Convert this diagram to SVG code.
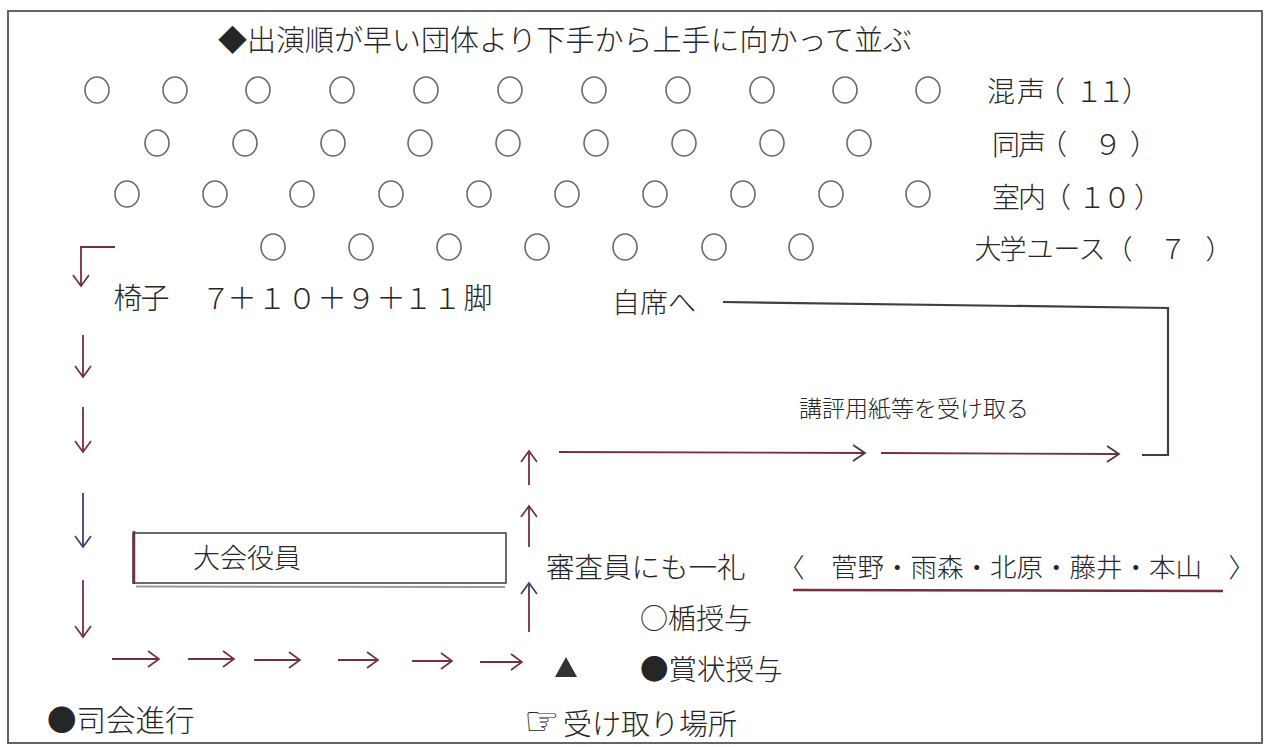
<svg xmlns="http://www.w3.org/2000/svg" width="1268" height="747" viewBox="0 0 1268 747">
<style>
  text { font-family: 'Noto Sans CJK JP', 'Noto Sans CJK SC', sans-serif; fill: #262626; font-weight: 300; }
  .seat { fill: none; stroke: #6a6a6a; stroke-width: 1.6; }
  .mr { stroke: #73303d; stroke-width: 1.8; fill: none; }
  .nv { stroke: #3d4170; stroke-width: 1.8; fill: none; }
  .dk { stroke: #4a3a3d; stroke-width: 2.2; fill: none; }
</style>
<defs>
  <marker id="ahM" viewBox="-13 -10 15 20" refX="0" refY="0" markerWidth="15" markerHeight="20" markerUnits="userSpaceOnUse" orient="auto">
    <path d="M-11,-8 L0,0 L-11,8" fill="none" stroke="#73303d" stroke-width="1.7"/>
  </marker>
  <marker id="ahN" viewBox="-13 -10 15 20" refX="0" refY="0" markerWidth="15" markerHeight="20" markerUnits="userSpaceOnUse" orient="auto">
    <path d="M-11,-8 L0,0 L-11,8" fill="none" stroke="#3d4170" stroke-width="1.7"/>
  </marker>
  <marker id="ahD" viewBox="-13 -10 15 20" refX="0" refY="0" markerWidth="15" markerHeight="20" markerUnits="userSpaceOnUse" orient="auto">
    <path d="M-12,-8 L0,0 L-12,8" fill="none" stroke="#4a3a3d" stroke-width="1.8"/>
  </marker>
</defs>

<rect x="0" y="0" width="1268" height="747" fill="#ffffff"/>
<rect id="frame" x="8" y="11" width="1254" height="732" fill="none" stroke="#555" stroke-width="1.8"/>

<g id="title">
  <text x="218" y="51" font-size="29">◆出演順が早い団体より下手から上手に向かって並ぶ</text>
</g>

<g id="row-konsei">
  <ellipse class="seat" cx="97" cy="90" rx="12" ry="13"/>
  <ellipse class="seat" cx="175" cy="90" rx="12" ry="13"/>
  <ellipse class="seat" cx="258" cy="90" rx="12" ry="13"/>
  <ellipse class="seat" cx="342" cy="90" rx="12" ry="13"/>
  <ellipse class="seat" cx="426" cy="90" rx="12" ry="13"/>
  <ellipse class="seat" cx="510" cy="90" rx="12" ry="13"/>
  <ellipse class="seat" cx="594" cy="90" rx="12" ry="13"/>
  <ellipse class="seat" cx="678" cy="90" rx="12" ry="13"/>
  <ellipse class="seat" cx="762" cy="90" rx="12" ry="13"/>
  <ellipse class="seat" cx="845" cy="90" rx="12" ry="13"/>
  <ellipse class="seat" cx="928" cy="90" rx="12" ry="13"/>
  <text x="1001 1031 1051 1089 1111 1136" y="102" font-size="28" text-anchor="middle">混声（１１）</text>
</g>

<g id="row-dousei">
  <ellipse class="seat" cx="157" cy="143" rx="12" ry="13"/>
  <ellipse class="seat" cx="245" cy="143" rx="12" ry="13"/>
  <ellipse class="seat" cx="333" cy="143" rx="12" ry="13"/>
  <ellipse class="seat" cx="420" cy="143" rx="12" ry="13"/>
  <ellipse class="seat" cx="508" cy="143" rx="12" ry="13"/>
  <ellipse class="seat" cx="596" cy="143" rx="12" ry="13"/>
  <ellipse class="seat" cx="684" cy="143" rx="12" ry="13"/>
  <ellipse class="seat" cx="772" cy="143" rx="12" ry="13"/>
  <ellipse class="seat" cx="859" cy="143" rx="12" ry="13"/>
  <text x="1006 1032 1053 1080 1108 1125 1144" y="155" font-size="28" text-anchor="middle">同声（　９　）</text>
</g>

<g id="row-shitsunai">
  <ellipse class="seat" cx="127" cy="194" rx="12" ry="13"/>
  <ellipse class="seat" cx="215" cy="194" rx="12" ry="13"/>
  <ellipse class="seat" cx="302" cy="194" rx="12" ry="13"/>
  <ellipse class="seat" cx="391" cy="194" rx="12" ry="13"/>
  <ellipse class="seat" cx="479" cy="194" rx="12" ry="13"/>
  <ellipse class="seat" cx="567" cy="194" rx="12" ry="13"/>
  <ellipse class="seat" cx="655" cy="194" rx="12" ry="13"/>
  <ellipse class="seat" cx="743" cy="194" rx="12" ry="13"/>
  <ellipse class="seat" cx="831" cy="194" rx="12" ry="13"/>
  <ellipse class="seat" cx="918" cy="194" rx="12" ry="13"/>
  <text x="1006 1032 1057 1092 1117 1148" y="208" font-size="28" text-anchor="middle">室内（１０）</text>
</g>

<g id="row-daigaku">
  <ellipse class="seat" cx="273" cy="247" rx="12" ry="13"/>
  <ellipse class="seat" cx="361" cy="247" rx="12" ry="13"/>
  <ellipse class="seat" cx="449" cy="247" rx="12" ry="13"/>
  <ellipse class="seat" cx="537" cy="247" rx="12" ry="13"/>
  <ellipse class="seat" cx="625" cy="247" rx="12" ry="13"/>
  <ellipse class="seat" cx="714" cy="247" rx="12" ry="13"/>
  <ellipse class="seat" cx="801" cy="247" rx="12" ry="13"/>
  <text x="988 1013 1040 1067 1092 1119 1145 1173 1195 1219" y="259" font-size="27" text-anchor="middle">大学ユース（　７　）</text>
</g>

<g id="chairs">
  <text x="128 155 185 216 242 272 302 332 361 391 418 447 478" y="309" font-size="29" text-anchor="middle">椅子　７＋１０＋９＋１１脚</text>
</g>

<g id="jiseki">
  <text x="612" y="313" font-size="28">自席へ</text>
</g>

<g id="kouhyou">
  <text x="799" y="417" font-size="23">講評用紙等を受け取る</text>
</g>

<g id="taikai-yakuin">
  <rect x="133" y="533" width="373" height="50" fill="none" stroke="#3a3a3a" stroke-width="1.5"/>
  <line x1="134" y1="531" x2="134" y2="584" stroke="#73303d" stroke-width="2.5"/>
  <line x1="136" y1="586.5" x2="505" y2="587" stroke="#9a9a9a" stroke-width="2"/>
  <text x="193" y="568" font-size="27">大会役員</text>
</g>

<g id="shinsain">
  <text x="546" y="578" font-size="28.5">審査員にも一礼</text>
</g>

<g id="judges">
  <text x="778" y="577" font-size="26.5">〈　菅野・雨森・北原・藤井・本山　〉</text>
  <line x1="793" y1="590" x2="1223" y2="591" stroke="#73303d" stroke-width="2.5"/>
</g>

<g id="tate">
  <text x="640" y="629" font-size="28">○楯授与</text>
</g>

<g id="triangle">
  <polygon points="566,657 555,677 577,677" fill="#333"/>
</g>

<g id="shoujou">
  <text x="640" y="680" font-size="28.5">●賞状授与</text>
</g>

<g id="shikai">
  <text x="47" y="731" font-size="29.5">●司会進行</text>
</g>

<g id="uketori">
  <text x="524" y="735" font-size="40" style="font-family: 'DejaVu Sans', sans-serif; font-weight: normal;">☞</text>
  <text x="563" y="735" font-size="29">受け取り場所</text>
</g>

<g id="connectors">
  <path class="mr" d="M115,247 L81,247 L81,286" marker-end="url(#ahM)"/>
  <line class="mr" x1="83" y1="335" x2="83" y2="377" marker-end="url(#ahM)"/>
  <line class="mr" x1="83" y1="407" x2="83" y2="452" marker-end="url(#ahM)"/>
  <line class="nv" x1="83" y1="493" x2="83" y2="547" marker-end="url(#ahN)"/>
  <line class="mr" x1="83" y1="580" x2="83" y2="637" marker-end="url(#ahM)"/>

  <line class="mr" x1="112" y1="659" x2="159" y2="659" marker-end="url(#ahM)"/>
  <line class="mr" x1="188" y1="659" x2="234" y2="659" marker-end="url(#ahM)"/>
  <line class="mr" x1="254" y1="660" x2="300" y2="660" marker-end="url(#ahM)"/>
  <line class="mr" x1="338" y1="660" x2="378" y2="660" marker-end="url(#ahM)"/>
  <line class="mr" x1="412" y1="661" x2="452" y2="661" marker-end="url(#ahM)"/>
  <line class="mr" x1="480" y1="662" x2="522" y2="662" marker-end="url(#ahM)"/>

  <line class="mr" x1="529" y1="632" x2="529" y2="583" marker-end="url(#ahN)"/>
  <line class="mr" x1="529" y1="547" x2="529" y2="506" marker-end="url(#ahM)"/>
  <line class="mr" x1="529" y1="485" x2="529" y2="451" marker-end="url(#ahM)"/>

  <line class="mr" x1="559" y1="452" x2="865" y2="453" marker-end="url(#ahD)"/>
  <line class="mr" x1="881" y1="453" x2="1119" y2="454" marker-end="url(#ahD)"/>
  <path class="dk" d="M1142,455 L1168,455 L1168,308 L723,302"/>
</g>
</svg>
